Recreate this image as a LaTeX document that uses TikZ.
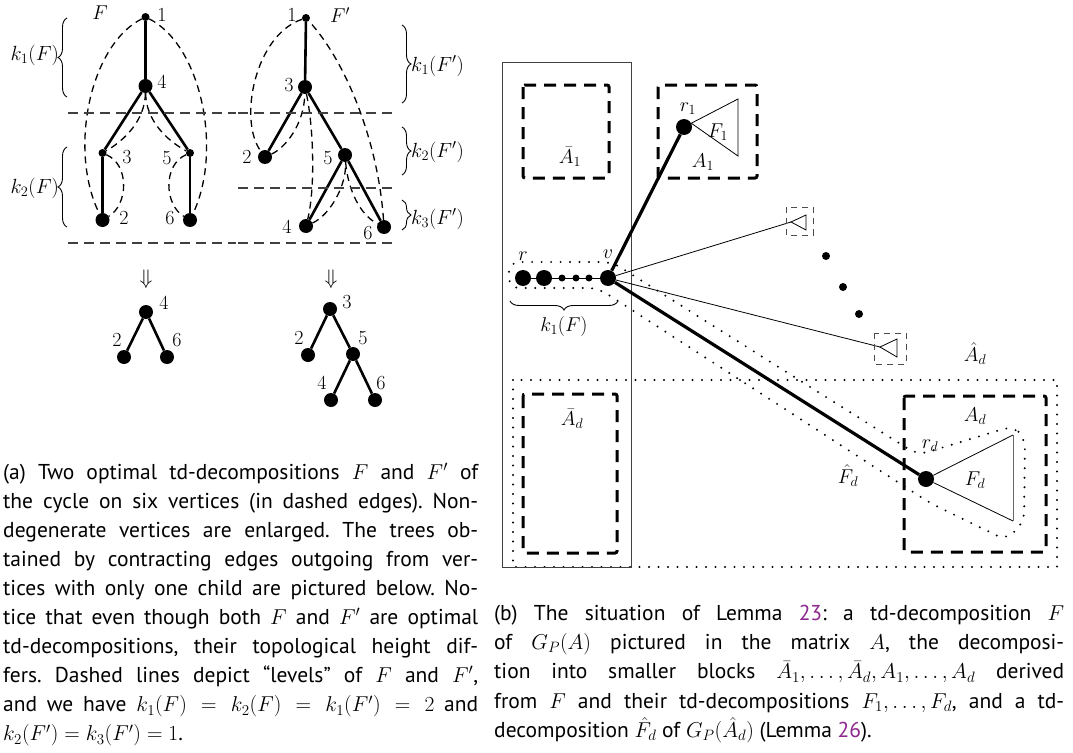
\RequirePackage{fix-cm}
\documentclass[tikz,border=0pt]{standalone}
\usepackage{fontspec}
\setmainfont{PT Sans}
\usepackage{graphicx}
\usetikzlibrary{decorations.pathreplacing}
\definecolor{linkpurple}{RGB}{140,40,140}
% one justified caption line of a fixed width (squeezed if too long)
\newsavebox\caplinebox
\newcommand\capline[2]{%
  \sbox\caplinebox{#2}%
  \ifdim\wd\caplinebox>#1\relax
    \pgfmathsetmacro\capscale{#1/\the\wd\caplinebox}%
    \scalebox{\capscale}[1]{\usebox\caplinebox}%
  \else
    \hbox to #1{#2}%
  \fi}
\begin{document}
\begin{tikzpicture}[x=1pt,y=-1pt,
  big/.style={circle, fill, inner sep=0pt, minimum size=14pt},
  bigb/.style={circle, fill, inner sep=0pt, minimum size=16pt},
  small/.style={circle, fill, inner sep=0pt, minimum size=8pt},
  tiny/.style={circle, fill, inner sep=0pt, minimum size=7pt},
  tedge/.style={line width=2.6pt},
  bedge/.style={line width=3.2pt},
  cyc/.style={line width=1.3pt, dash pattern=on 7pt off 5pt},
  levelline/.style={line width=1.1pt, dash pattern=on 10pt off 6pt, black!75},
  lbl/.style={font=\fontsize{20}{22}\selectfont, inner sep=0pt},
  brc/.style={decorate, decoration={brace, amplitude=9pt}, line width=0.9pt},
  blockbox/.style={line width=3pt, dash pattern=on 12pt off 8pt, rounded corners=2pt},
  minibox/.style={line width=0.8pt, black!70, dash pattern=on 6pt off 5pt},
  dotline/.style={line width=2.2pt, dash pattern=on 0pt off 9.5pt, line cap=round},
  thinl/.style={line width=0.8pt},
  captext/.style={anchor=base west, inner sep=0pt, font=\fontsize{21.5}{29}\selectfont\frenchspacing},
]
\useasboundingbox (0,0) rectangle (1073,752);

% ---------- tree F ----------
\node[small] (a1) at (145.5,17) {};
\node[big]   (a4) at (145.5,86) {};
\node[small] (a3) at (102.5,153) {};
\node[small] (a5) at (190,153) {};
\node[big]   (a2) at (102.5,220) {};
\node[big]   (a6) at (190,220) {};
\draw[tedge] (a1) -- (a4);
\draw[tedge] (a4) -- (a3);
\draw[tedge] (a4) -- (a5);
\draw[tedge] (a3) -- (a2);
\draw[tedge] (a5) -- (a6);
\draw[cyc] (a1) .. controls (90,45) and (68,150) .. (a2);
\draw[cyc] (a1) .. controls (201,45) and (223,150) .. (a6);
\draw[cyc] (a4) .. controls (145,120) and (125,140) .. (a3);
\draw[cyc] (a4) .. controls (146,120) and (166,140) .. (a5);
\draw[cyc] (a3) .. controls (130,165) and (128,205) .. (a2);
\draw[cyc] (a5) .. controls (162.5,165) and (164.5,205) .. (a6);
\node[lbl] (la1) at (162,15) {$1$};
\node[lbl] (la4) at (162,82) {$4$};
\node[lbl] (la3) at (127,157) {$3$};
\node[lbl] (la5) at (167,158) {$5$};
\node[lbl] (la2) at (124,218) {$2$};
\node[lbl] (la6) at (170,218) {$6$};
\node[lbl] (lF) at (100,13) {$F$};

% levels of F
\draw[levelline] (68,113) -- (236,113);
\draw[levelline] (68,243) -- (236,243);
\draw[brc] (67,97) -- (67,18);
\draw[brc] (67,227) -- (67,147);
\node[lbl, anchor=east, font=\fontsize{20.5}{22}\selectfont] (k1F) at (59,55) {$k_1(F)$};
\node[lbl, anchor=east, font=\fontsize{20.5}{22}\selectfont] (k2F) at (59,188) {$k_2(F)$};

% ---------- tree F' ----------
\node[small] (b1) at (306,18) {};
\node[big]   (b3) at (305,87) {};
\node[big]   (b2) at (265,157) {};
\node[big]   (b5) at (345,155) {};
\node[big]   (b4) at (306,226) {};
\node[big]   (b6) at (384,227) {};
\draw[tedge] (b1) -- (b3);
\draw[tedge] (b3) -- (b2);
\draw[tedge] (b3) -- (b5);
\draw[tedge] (b5) -- (b4);
\draw[tedge] (b5) -- (b6);
\draw[cyc] (b1) .. controls (255,35) and (238,120) .. (b2);
\draw[cyc] (b2) .. controls (285,148) and (304,125) .. (b3);
\draw[cyc] (b3) .. controls (314,130) and (315,190) .. (b4);
\draw[cyc] (b4) .. controls (330,215) and (347,185) .. (b5);
\draw[cyc] (b5) .. controls (348,190) and (360,215) .. (b6);
\draw[cyc] (b6) .. controls (378,140) and (345,60) .. (b1);
\node[lbl] (lb1) at (292,15) {$1$};
\node[lbl] (lFp) at (340,15) {$F'$};
\node[lbl] (lb3) at (289,85) {$3$};
\node[lbl] (lb2) at (247,157) {$2$};
\node[lbl] (lb5) at (328,158) {$5$};
\node[lbl] (lb4) at (287,227) {$4$};
\node[lbl] (lb6) at (368,233) {$6$};

% levels of F'
\draw[levelline] (238,113) -- (397,113);
\draw[levelline] (238,188) -- (397,188);
\draw[levelline] (238,243) -- (397,243);
\draw[brc] (402,25) -- (402,103);
\draw[brc] (402,127) -- (402,175);
\draw[brc] (402,200) -- (402,230);
\node[lbl, anchor=west, font=\fontsize{20.5}{22}\selectfont] (k1Fp) at (411,66) {$k_1(F')$};
\node[lbl, anchor=west, font=\fontsize{20.5}{22}\selectfont] (k2Fp) at (411,152) {$k_2(F')$};
\node[lbl, anchor=west, font=\fontsize{20.5}{22}\selectfont] (k3Fp) at (411,219) {$k_3(F')$};

% ---------- contracted trees ----------
\node[lbl, font=\fontsize{21}{22}\selectfont] (arrL) at (146,279) {$\Downarrow$};
\node[lbl, font=\fontsize{21}{22}\selectfont] (arrR) at (331,279) {$\Downarrow$};
\node[big] (c4) at (146,312) {};
\node[big] (c2) at (124,357) {};
\node[big] (c6) at (167,357) {};
\draw[tedge] (c4) -- (c2);
\draw[tedge] (c4) -- (c6);
\node[lbl] (lc4) at (164,303) {$4$};
\node[lbl] (lc2) at (117,340) {$2$};
\node[lbl] (lc6) at (177,340) {$6$};
\node[big] (d3) at (330,309) {};
\node[big] (d2) at (308,355) {};
\node[big] (d5) at (353,354) {};
\node[big] (d4) at (331,400) {};
\node[big] (d6) at (375,400) {};
\draw[tedge] (d3) -- (d2);
\draw[tedge] (d3) -- (d5);
\draw[tedge] (d5) -- (d4);
\draw[tedge] (d5) -- (d6);
\node[lbl] (ld3) at (347,302) {$3$};
\node[lbl] (ld2) at (299,338) {$2$};
\node[lbl] (ld5) at (363,338) {$5$};
\node[lbl] (ld4) at (322,383) {$4$};
\node[lbl] (ld6) at (381,383) {$6$};

% ---------- matrix picture ----------
\draw[dotline] (513,380) rectangle (1057,567);
\node[lbl] (lAhat) at (975,354) {$\hat A_d$};
\draw[blockbox] (523,85) rectangle (609,178);
\node[lbl] (lAb1) at (570,157) {$\bar A_1$};
\draw[blockbox] (658,85) rectangle (757,178);
\draw[blockbox] (523,394) rectangle (617,553);
\node[lbl] (lAbd) at (572,419) {$\bar A_d$};
\draw[blockbox] (904,396) rectangle (1046,552);
\draw[line width=0.9pt, black!75] (502,62) rectangle (631,567);

% the path from r to v
\node[bigb] (r)  at (523,278) {};
\node[bigb] (p2) at (544,278) {};
\node[tiny] (p3) at (562,278) {};
\node[tiny] (p4) at (576,278) {};
\node[tiny] (p5) at (589,278) {};
\node[bigb] (v)  at (608,278) {};
\draw[thinl] (r) -- (v);
\node[lbl] (lr) at (523,256) {$r$};
\node[lbl] (lv) at (608,254) {$v$};
\draw[brc] (618,301) -- (510,301);
\node[lbl] (k1b) at (564,326) {$k_1(F)$};

% block A_1 with F_1
\node[bigb] (r1) at (684,127) {};
\draw[thinl] (r1) -- (738,99) -- (738,156) -- cycle;
\draw[bedge] (v) -- (r1);
\node[lbl] (lr1) at (688,109) {$r_1$};
\node[lbl] (lF1) at (718,132) {$F_1$};
\node[lbl] (lA1) at (703,162) {$A_1$};

% the other children of v
\coordinate (t1) at (791,222);
\coordinate (t2) at (880,347);
\draw[thinl] (v) -- (t1);
\draw[thinl] (v) -- (t2);
\draw[thinl] (t1) -- (806,215) -- (806,230) -- cycle;
\draw[thinl] (t2) -- (897,339) -- (897,357) -- cycle;
\draw[minibox] (786,207) rectangle (813,235);
\draw[minibox] (874,333) rectangle (906,364);
\node[small] (e1) at (826,256) {};
\node[small] (e2) at (843,287) {};
\node[small] (e3) at (859,314) {};

% block A_d with F_d
\node[bigb] (rd) at (926,479) {};
\draw[bedge] (v) -- (rd);
\draw[thinl] (rd) -- (1013,435);
\draw[thinl] (rd) -- (1013,521);
\draw[thinl, black!60] (1013,435) -- (1013,521);
\node[lbl] (lrd) at (930,446) {$r_d$};
\node[lbl] (lFd) at (975,480) {$F_d$};
\node[lbl] (lAd) at (975,416) {$A_d$};

% outline of \hat F_d
\draw[dotline, rounded corners=10pt] (560,262) -- (612,262) -- (918,455) -- (1013,426)
  -- (1025,438) -- (1024,522) -- (1006,540) -- (930,503) -- (598,288) -- (509,288)
  -- (509,262) -- cycle;
\node[lbl] (lFhat) at (848,476) {$\hat F_d$};

% ---------- captions ----------
\node[captext] (ca1) at (3,479.0) {\capline{475pt}{(a) Two optimal td-decompositions $F$ and $F'$ of}};
\node[captext] (ca2) at (3,508.1) {\capline{475pt}{the cycle on six vertices (in dashed edges). Non-}};
\node[captext] (ca3) at (3,537.2) {\capline{475pt}{degenerate vertices are enlarged. The trees ob-}};
\node[captext] (ca4) at (3,566.3) {\capline{475pt}{tained by contracting edges outgoing from ver-}};
\node[captext] (ca5) at (3,595.4) {\capline{475pt}{tices with only one child are pictured below. No-}};
\node[captext] (ca6) at (3,624.5) {\capline{475pt}{tice that even though both $F$ and $F'$ are optimal}};
\node[captext] (ca7) at (3,653.6) {\capline{475pt}{td-decompositions, their topological height dif-}};
\node[captext] (ca8) at (3,682.7) {\capline{475pt}{fers. Dashed lines depict “levels” of $F$ and $F'$,}};
\node[captext] (ca9) at (3,711.8) {\capline{475pt}{and we have $k_1(F) = k_2(F) = k_1(F') = 2$ and}};
\node[captext] (ca10) at (3,740.9) {$k_2(F') = k_3(F') = 1$.};

\node[captext] (cb1) at (494,620.0) {\capline{570pt}{(b) The situation of Lemma \textcolor{linkpurple}{23}: a td-decomposition $F$}};
\node[captext] (cb2) at (494,649.4) {\capline{570pt}{of $G_P(A)$ pictured in the matrix $A$, the decomposi-}};
\node[captext] (cb3) at (494,678.8) {\capline{570pt}{tion into smaller blocks $\bar A_1,\dots,\bar A_d,A_1,\dots,A_d$ derived}};
\node[captext] (cb4) at (494,708.2) {\capline{570pt}{from $F$ and their td-decompositions $F_1,\dots,F_d$, and a td-}};
\node[captext] (cb5) at (494,737.6) {decomposition $\hat F_d$ of $G_P(\hat A_d)$ (Lemma \textcolor{linkpurple}{26}).};
\end{tikzpicture}
\end{document}
